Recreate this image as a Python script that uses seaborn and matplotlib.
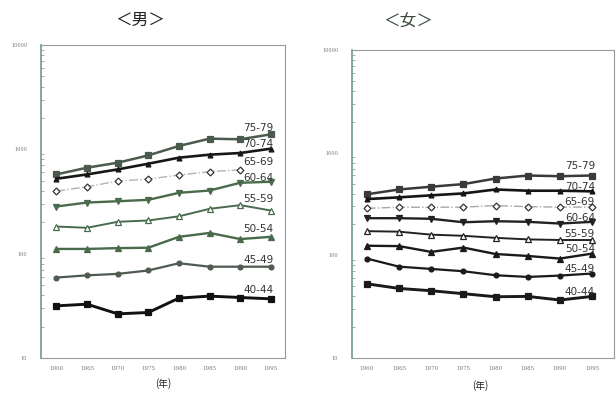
import numpy as np
import pandas as pd
import matplotlib
matplotlib.use('Agg')
import matplotlib.pyplot as plt
import seaborn as sns

# データ（グラフから読み取り、対数目盛）
years = [1960, 1965, 1970, 1975, 1980, 1985, 1990, 1995]
age_groups = ['75-79', '70-74', '65-69', '60-64', '55-59', '50-54', '45-49', '40-44']

male_7579 = [575, 667, 744, 875, 1077, 1266, 1248, 1393]
male_7074 = [522, 575, 642, 728, 832, 889, 922, 1015]
male_6569 = [398, 438, 496, 519, 567, 610, 637, np.nan]
male_6064 = [283, 309, 318, 328, 383, 403, 478, 489]
male_5559 = [182, 177, 202, 208, 228, 269, 292, 259]
male_5054 = [111, 111, 113, 114, 145, 158, 138, 145]
male_4549 = [59, 62, 64, 69, 81, 75, 75, 75]
male_4044 = [31.6, 32.8, 26.5, 27.3, 37.5, 39.2, 38, 36.9]

female_7579 = [393, 438, 466, 494, 560, 599, 590, 599]
female_7074 = [353, 367, 384, 401, 438, 426, 426, 420]
female_6569 = [287, 294, 294, 295, 305, 298, 295, 295]
female_6064 = [230, 230, 227, 210, 215, 212, 204, 212]
female_5559 = [172, 170, 159, 155, 148, 143, 141, 141]
female_5054 = [124, 123, 108, 119, 103, 98.6, 93, 104]
female_4549 = [93, 77.6, 73.7, 70, 64, 61.6, 63.5, 66.5]
female_4044 = [52.8, 47.6, 45.2, 42.3, 39.5, 39.8, 36.7, 39.8]

male = [male_7579, male_7074, male_6569, male_6064, male_5559, male_5054, male_4549, male_4044]
female = [female_7579, female_7074, female_6569, female_6064, female_5559, female_5054, female_4549, female_4044]

# 男の65-69は1995年の点がないのでラベル位置だけ指定
male_label_y = [1393, 1015, 750, 489, 259, 145, 75, 36.9]
female_label_y = [599, 420, 295, 212, 141, 104, 66.5, 39.8]
male_dy = [4.8, 3.1, 0, 2.9, 8.6, 5.3, 4.8, 6.3]
female_dy = [6.7, 3.3, 3.8, 2.7, 4.5, 3.4, 2.9, 3.4]

# マーカーと線のスタイル
markers = ['s', '^', 'D', 'v', '^', '^', 'o', 's']
fills = [True, True, False, True, False, True, True, True]
msizes = [5, 3.5, 3.5, 4.5, 4.5, 4.5, 3.5, 5]
lwidths = [1.8, 1.9, 1.0, 1.7, 1.4, 1.7, 1.6, 2.1]
styles = ['-', '-', '-.', '-', '-', '-', '-', '-']
male_colors = ['#4a5a4c', '#151815', '#b0b4b0', '#4a6a4c', '#4a6a4c', '#4a6a4c', '#4f5a50', '#111111']
female_colors = ['#3a3a3a', '#151515', '#a8a8a8', '#222222', '#222222', '#1a1a1a', '#1a1a1a', '#1a1a1a']

sns.set_style('white')
plt.rcParams['font.family'] = ['Noto Sans CJK JP', 'DejaVu Sans']

fig = plt.figure(figsize=(6.16, 3.98), dpi=100)
ax_m = fig.add_axes([41 / 616, 1 - 358 / 398, 244 / 616, 313 / 398])
ax_f = fig.add_axes([352 / 616, 1 - 358 / 398, 262 / 616, 308 / 398])


def draw_panel(ax, series, colors, label_y, dys, xlim):
    for i, vals in enumerate(series):
        d = pd.DataFrame({'year': years, 'rate': vals})
        sns.lineplot(data=d, x='year', y='rate', ax=ax, color=colors[i],
                     linestyle=styles[i], linewidth=lwidths[i],
                     marker=markers[i], markersize=msizes[i],
                     markerfacecolor=colors[i] if fills[i] else 'white',
                     markeredgecolor='#333333' if i == 2 else colors[i],
                     markeredgewidth=0.9)
        ax.annotate(age_groups[i], (1995, label_y[i]), textcoords='offset points',
                    xytext=(2, dys[i]), ha='right', va='center',
                    fontsize=7.5, color='#333333', family='DejaVu Sans')
    ax.set_yscale('log')
    ax.set_ylim(10, 10000)
    ax.set_xlim(*xlim)
    ax.set_xticks(years)
    ax.set_xticklabels([str(y) for y in years], fontsize=4, color='#777777',
                       family='DejaVu Serif')
    ax.set_yticks([10, 100, 1000, 10000])
    ax.set_yticklabels(['10', '100', '1000', '10000'], fontsize=3.5, color='#777777',
                       family='DejaVu Serif')
    ax.tick_params(axis='x', direction='in', length=4, width=0.6, color='#999999', pad=6)
    ax.tick_params(axis='y', which='major', direction='in', length=5, width=0.6,
                   color='#777777', pad=10)
    ax.tick_params(axis='y', which='minor', direction='in', length=2.5, width=0.5,
                   color='#888888', left=True)
    ax.set_xlabel('')
    ax.set_ylabel('')
    for s in ['top', 'right', 'bottom']:
        ax.spines[s].set_color('#999999')
        ax.spines[s].set_linewidth(0.8)
    ax.spines['left'].set_color('#6a9a8a')
    ax.spines['left'].set_linewidth(1.2)


draw_panel(ax_m, male, male_colors, male_label_y, male_dy, (1957.5, 1997.3))
draw_panel(ax_f, female, female_colors, female_label_y, female_dy, (1957.7, 1998.4))

fig.text(140 / 616, 1 - 20 / 398, '＜男＞', ha='center', va='center', fontsize=12, color='#222222')
fig.text(408 / 616, 1 - 22 / 398, '＜女＞', ha='center', va='center', fontsize=12, color='#3a4a3a')
fig.text(163 / 616, 1 - 384 / 398, '(年)', ha='center', va='center', fontsize=7, color='#222222')
fig.text(480 / 616, 1 - 386 / 398, '(年)', ha='center', va='center', fontsize=7, color='#222222')

fig.savefig('out.png', dpi=100, facecolor='white')
